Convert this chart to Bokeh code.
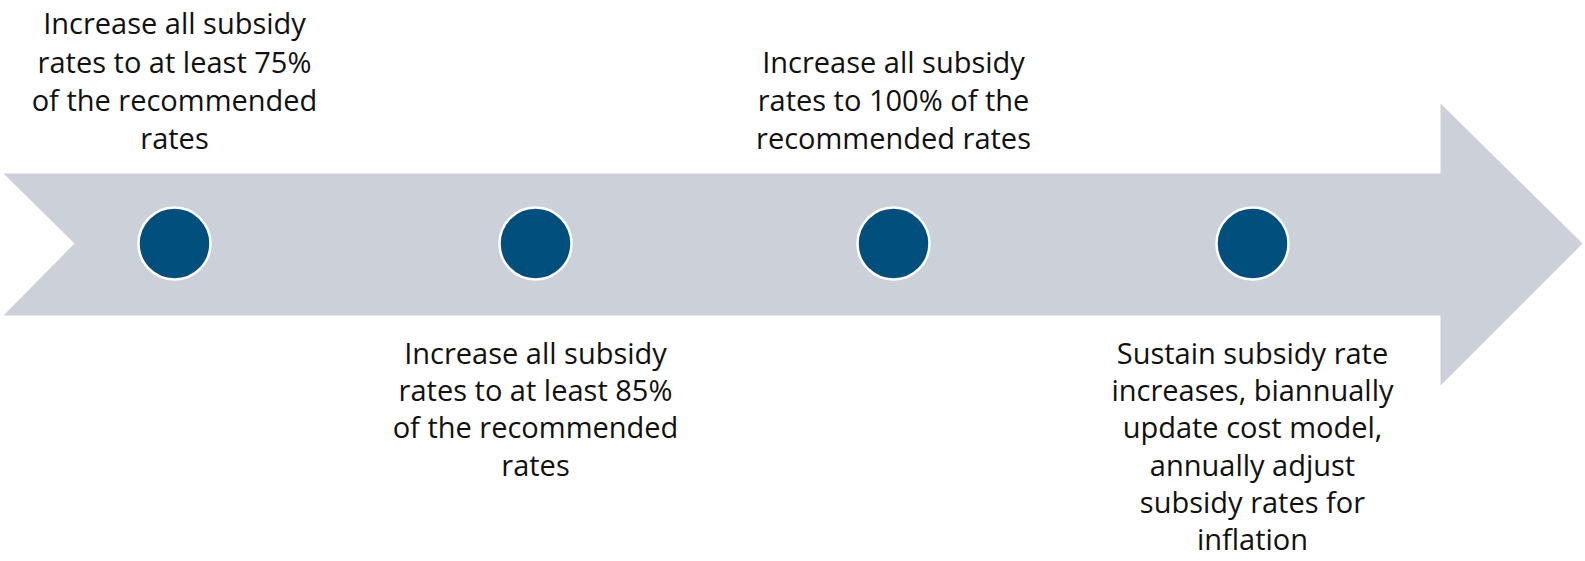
from bokeh.plotting import figure
from bokeh.models import Range1d
from bokeh.core.properties import value
from bokeh.embed import file_html
from bokeh.resources import INLINE

W, H = 1585, 561

# milestones (x position of each stage along the arrow)
stage_x = [174, 535, 893, 1252]
stage_side = ["above", "below", "above", "below"]
stage_text = [
    ["Increase all subsidy", "rates to at least 75%", "of the recommended", "rates"],
    ["Increase all subsidy", "rates to at least 85%", "of the recommended", "rates"],
    ["Increase all subsidy", "rates to 100% of the", "recommended rates"],
    ["Sustain subsidy rate", "increases, biannually", "update cost model,", "annually adjust",
     "subsidy rates for", "inflation"],
]

# arrow geometry
shaft_top, shaft_bot, mid_y = 173, 315, 243
notch_x, head_base, head_top, head_bot, tip_x = 74, 1440, 103, 385, 1582
line_h_above = 38.2
line_h_below = 37.2
above_last_y = 137
below_first_y = 352

p = figure(width=W, height=H, x_range=Range1d(0, W), y_range=Range1d(H, 0),
           output_backend="svg", toolbar_location=None, min_border=0)
p.axis.visible = False
p.grid.visible = False
p.outline_line_color = None
p.background_fill_color = "white"
p.border_fill_color = "white"

ax = [3, head_base, head_base, tip_x, head_base, head_base, 3, notch_x]
ay = [shaft_top, shaft_top, head_top, mid_y, head_bot, shaft_bot, shaft_bot, mid_y]
p.patch(ax, ay, fill_color="#CBD0D9", line_color=None)

p.scatter(stage_x, [mid_y] * len(stage_x), size=72, fill_color="#004F7C",
          line_color="white", line_width=2.5)

xs, ys, ts = [], [], []
for x, side, lines in zip(stage_x, stage_side, stage_text):
    n = len(lines)
    for i, t in enumerate(lines):
        if side == "above":
            y = above_last_y - (n - 1 - i) * line_h_above
        else:
            y = below_first_y + i * line_h_below
        xs.append(x); ys.append(y); ts.append(t)

p.text(xs, ys, text=ts, text_align="center", text_baseline="middle",
       text_font=value("Open Sans"), text_font_size="29px", text_color="#111111")

open("out.html", "w").write(file_html(p, INLINE))
